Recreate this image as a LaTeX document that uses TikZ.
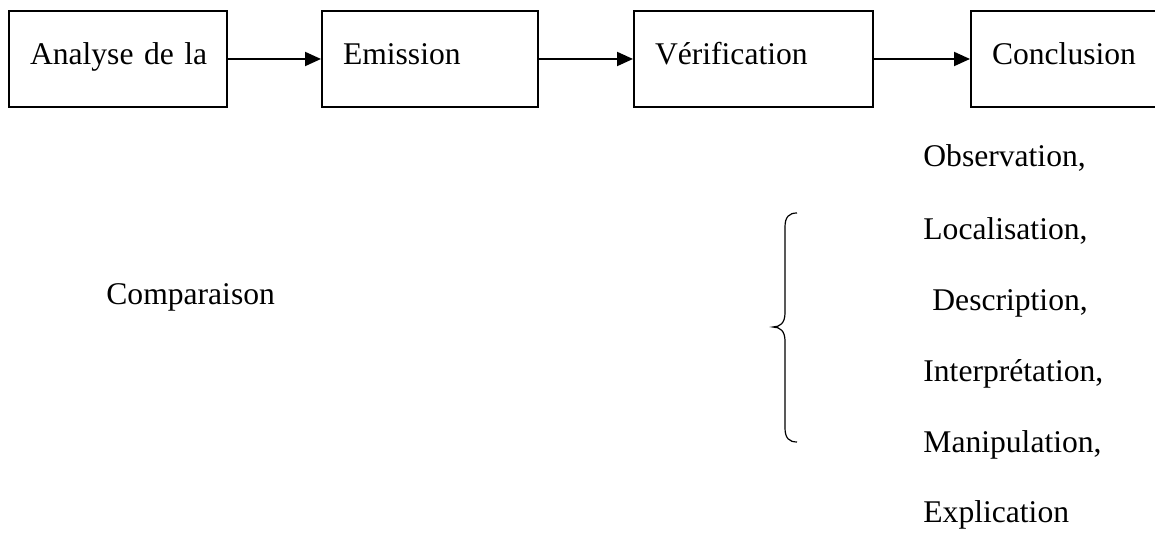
\documentclass[tikz,border=0pt]{standalone}
\usepackage{fontspec}
\setmainfont{Liberation Serif}
\usetikzlibrary{arrows.meta}

\begin{document}
\begin{tikzpicture}[x=0.5pt, y=0.5pt,
    etape/.style={draw, line width=1pt, minimum height=48pt, inner xsep=10.5pt,
      text height=10pt, text depth=4pt,
      align=left, font=\fontsize{15.8}{18}\selectfont},
    mot/.style={anchor=base west, inner sep=0pt, font=\fontsize{15.8}{18}\selectfont},
    fleche/.style={-{Triangle[length=8pt, width=7pt]}, line width=1pt}]
      \useasboundingbox (0, 0) rectangle (1155, 533);
      % Etapes
      \node[etape, text width=88pt] (analyse) at (118, 474) {\mbox{Analyse de la}};
      \node[etape, text width=87pt] (emission) at (430, 474) {Emission};
      \node[etape, text width=98.5pt] (verif) at (753.5, 474) {Vérification};
      \node[etape, text width=85pt, anchor=west] (conclusion) at (970, 474) {Conclusion};

      % Fleches
      \draw[fleche] (analyse) -- (emission);
      \draw[fleche] (emission) -- (verif);
      \draw[fleche] (verif) -- (conclusion);

      % Comparaison
      \node[mot] (comparaison) at (106, 228) {Comparaison};

      % Accolade
      \draw[line width=0.6pt] (797, 320) .. controls (789, 320) and (785, 316) .. (785, 306)
        -- (785, 220) .. controls (785, 210) and (780, 206) .. (773, 206)
        .. controls (780, 206) and (785, 202) .. (785, 192)
        -- (785, 105) .. controls (785, 95) and (789, 91) .. (797, 91);

      % Liste
      \node[mot] (observation) at (923, 366) {Observation,};
      \node[mot] (localisation) at (923, 293) {Localisation,};
      \node[mot] (description) at (932, 222) {Description,};
      \node[mot] (interpretation) at (923, 151) {Interprétation,};
      \node[mot] (manipulation) at (923, 80) {Manipulation,};
      \node[mot] (explication) at (923, 10) {Explication};
\end{tikzpicture}
\end{document}
